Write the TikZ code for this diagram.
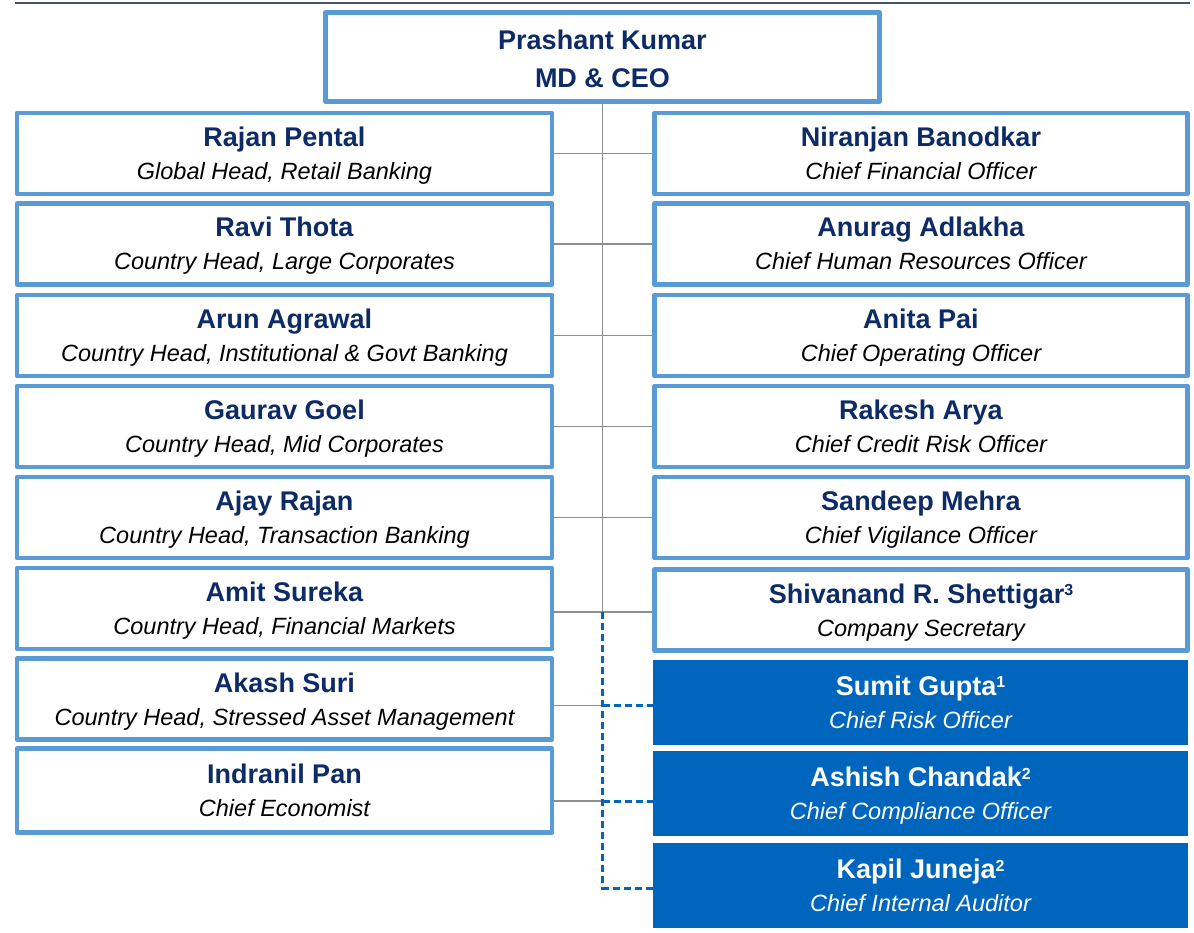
\documentclass[tikz,border=0pt]{standalone}
\usepackage{fontspec}
\setmainfont{Liberation Sans}
\usetikzlibrary{backgrounds}
\definecolor{navy}{HTML}{0D2B66}
\definecolor{lblue}{HTML}{5B9BD5}
\definecolor{dblue}{HTML}{0066BD}
\definecolor{gline}{HTML}{8E8E8E}
\definecolor{rulecol}{HTML}{44546A}
\newcommand{\supmark}[1]{\raisebox{7.5pt}{\fontsize{16}{16}\selectfont\bfseries #1}}
\tikzset{
  obox/.style={rectangle, draw=lblue, line width=4.5pt, line join=round, fill=white, inner sep=0pt, minimum height=81pt},
  lbox/.style={obox, minimum width=535pt},
  rbox/.style={obox, minimum width=533pt},
  bbox/.style={rectangle, fill=dblue, inner sep=0pt, minimum width=535pt},
  nm/.style={anchor=base, inner sep=0pt, text=navy, font=\fontsize{27}{30}\selectfont\bfseries},
  rl/.style={anchor=base, inner sep=0pt, text=black, font=\fontsize{23.5}{26}\selectfont\itshape},
  wnm/.style={nm, text=white},
  wrl/.style={rl, text=white},
  gcon/.style={draw=gline, line width=1.6pt},
  dcon/.style={draw=dblue, line width=3pt, dash pattern=on 7pt off 4pt},
}
\begin{document}
\begin{tikzpicture}[x=1pt,y=-1pt]
\useasboundingbox (0,0) rectangle (1194,933);
\draw[draw=rulecol, line width=2.2pt] (15,3.3) -- (1190,3.3);

% top
\node[obox, minimum width=554pt, minimum height=89pt] (top) at (602.5,57) {};
\node[nm] (topn) at ([yshift=7.3pt]top.center) {Prashant Kumar};
\node[nm] (topr) at ([yshift=-30.7pt]top.center) {MD \& CEO};

% left column
\node[lbox] (l1) at (284.5,153.5) {};
\node[nm] (l1n) at ([yshift=7pt]l1.center) {Rajan Pental};
\node[rl] (l1r) at ([yshift=-26pt]l1.center) {Global Head, Retail Banking};

\node[lbox] (l2) at (284.5,244) {};
\node[nm] (l2n) at ([yshift=7pt]l2.center) {Ravi Thota};
\node[rl] (l2r) at ([yshift=-26pt]l2.center) {Country Head, Large Corporates};

\node[lbox] (l3) at (284.5,335.5) {};
\node[nm] (l3n) at ([yshift=7pt]l3.center) {Arun Agrawal};
\node[rl] (l3r) at ([yshift=-26pt]l3.center) {Country Head, Institutional \& Govt Banking};

\node[lbox] (l4) at (284.5,426.5) {};
\node[nm] (l4n) at ([yshift=7pt]l4.center) {Gaurav Goel};
\node[rl] (l4r) at ([yshift=-26pt]l4.center) {Country Head, Mid Corporates};

\node[lbox] (l5) at (284.5,517.5) {};
\node[nm] (l5n) at ([yshift=7pt]l5.center) {Ajay Rajan};
\node[rl] (l5r) at ([yshift=-26pt]l5.center) {Country Head, Transaction Banking};

\node[lbox] (l6) at (284.5,608.5) {};
\node[nm] (l6n) at ([yshift=7pt]l6.center) {Amit Sureka};
\node[rl] (l6r) at ([yshift=-26pt]l6.center) {Country Head, Financial Markets};

\node[lbox] (l7) at (284.5,699) {};
\node[nm] (l7n) at ([yshift=7pt]l7.center) {Akash Suri};
\node[rl] (l7r) at ([yshift=-26pt]l7.center) {Country Head, Stressed Asset Management};

\node[lbox, minimum height=84pt] (l8) at (284.5,790.5) {};
\node[nm] (l8n) at ([yshift=7pt]l8.center) {Indranil Pan};
\node[rl] (l8r) at ([yshift=-26pt]l8.center) {Chief Economist};

% right column
\node[rbox] (r1) at (921,153.5) {};
\node[nm] (r1n) at ([yshift=7pt]r1.center) {Niranjan Banodkar};
\node[rl] (r1r) at ([yshift=-26pt]r1.center) {Chief Financial Officer};

\node[rbox] (r2) at (921,244) {};
\node[nm] (r2n) at ([yshift=7pt]r2.center) {Anurag Adlakha};
\node[rl] (r2r) at ([yshift=-26pt]r2.center) {Chief Human Resources Officer};

\node[rbox] (r3) at (921,335.5) {};
\node[nm] (r3n) at ([yshift=7pt]r3.center) {Anita Pai};
\node[rl] (r3r) at ([yshift=-26pt]r3.center) {Chief Operating Officer};

\node[rbox] (r4) at (921,426.5) {};
\node[nm] (r4n) at ([yshift=7pt]r4.center) {Rakesh Arya};
\node[rl] (r4r) at ([yshift=-26pt]r4.center) {Chief Credit Risk Officer};

\node[rbox] (r5) at (921,517.5) {};
\node[nm] (r5n) at ([yshift=7pt]r5.center) {Sandeep Mehra};
\node[rl] (r5r) at ([yshift=-26pt]r5.center) {Chief Vigilance Officer};

\node[rbox] (r6) at (921,610) {};
\node[nm] (r6n) at ([yshift=7pt]r6.center) {Shivanand R. Shettigar\supmark{3}};
\node[rl] (r6r) at ([yshift=-26pt]r6.center) {Company Secretary};

% blue boxes
\node[bbox, minimum height=84.5pt] (b1) at (920.5,702.3) {};
\node[wnm] (b1n) at ([yshift=7pt]b1.center) {Sumit Gupta\supmark{1}};
\node[wrl] (b1r) at ([yshift=-26pt]b1.center) {Chief Risk Officer};

\node[bbox, minimum height=84.5pt] (b2) at (920.5,793.7) {};
\node[wnm] (b2n) at ([yshift=7pt]b2.center) {Ashish Chandak\supmark{2}};
\node[wrl] (b2r) at ([yshift=-26pt]b2.center) {Chief Compliance Officer};

\node[bbox, minimum height=85pt] (b3) at (920.5,885.5) {};
\node[wnm] (b3n) at ([yshift=7pt]b3.center) {Kapil Juneja\supmark{2}};
\node[wrl] (b3r) at ([yshift=-26pt]b3.center) {Chief Internal Auditor};

% connectors
\coordinate (j6) at (602.5,612);
\coordinate (d1) at (602.5,705.5);
\coordinate (d2) at (602.5,801);
\coordinate (d3) at (602.5,888);
\begin{scope}[on background layer]
\draw[gcon] (top.south) -- (j6);
\draw[gcon] (l1.east) -- (r1.west);
\draw[gcon] (l2.east) -- (r2.west);
\draw[gcon] (l3.east) -- (r3.west);
\draw[gcon] (l4.east) -- (r4.west);
\draw[gcon] (l5.east) -- (r5.west);
\draw[gcon] (l6.east |- j6) -- (r6.west |- j6);
\draw[gcon] (l7.east |- d1) -- (d1);
\draw[gcon] (l8.east |- d2) -- (d2);
\draw[dcon] (j6) -- (d3) -- (d3 -| b3.west);
\draw[dcon] (d1) -- (d1 -| b1.west);
\draw[dcon] (d2) -- (d2 -| b2.west);
\end{scope}
\end{tikzpicture}
\end{document}
